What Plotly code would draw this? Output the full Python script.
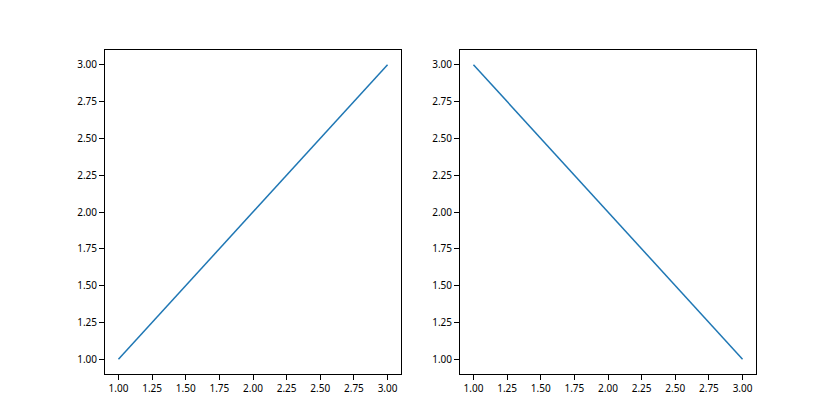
import plotly.graph_objects as go
from plotly.subplots import make_subplots

x_vals = [1, 2, 3]
y_left = [1, 2, 3]
y_right = [3, 2, 1]
tick_vals = [1.00, 1.25, 1.50, 1.75, 2.00, 2.25, 2.50, 2.75, 3.00]
tick_text = ["1.00", "1.25", "1.50", "1.75", "2.00", "2.25", "2.50", "2.75", "3.00"]

W, H = 840, 420
OFF = 8  # page body margin offset
fig = make_subplots(rows=1, cols=2)
fig.add_trace(go.Scatter(x=x_vals, y=y_left, mode="lines",
                         line=dict(color="#1f77b4", width=1.5)), row=1, col=1)
fig.add_trace(go.Scatter(x=x_vals, y=y_right, mode="lines",
                         line=dict(color="#1f77b4", width=1.5)), row=1, col=2)

axis_style = dict(range=[0.9, 3.1], showgrid=False, zeroline=False,
                  showline=True, linecolor="black", linewidth=1, mirror=True,
                  ticks="outside", ticklen=5, tickwidth=1, tickcolor="black",
                  tickvals=tick_vals, ticktext=tick_text,
                  tickfont=dict(family="Noto Sans", size=10, color="black"))

fig.update_layout(
    width=W, height=H, showlegend=False,
    margin=dict(l=0, r=0, t=0, b=0),
    paper_bgcolor="white", plot_bgcolor="white",
    xaxis=dict(domain=[(105 - OFF) / W, (401 - OFF) / W], **axis_style),
    xaxis2=dict(domain=[(460 - OFF) / W, (756 - OFF) / W], **axis_style),
    yaxis=dict(domain=[1 - (374 - OFF) / H, 1 - (50 - OFF) / H], **axis_style),
    yaxis2=dict(domain=[1 - (374 - OFF) / H, 1 - (50 - OFF) / H], **axis_style),
)

fig.write_html("out.html")
